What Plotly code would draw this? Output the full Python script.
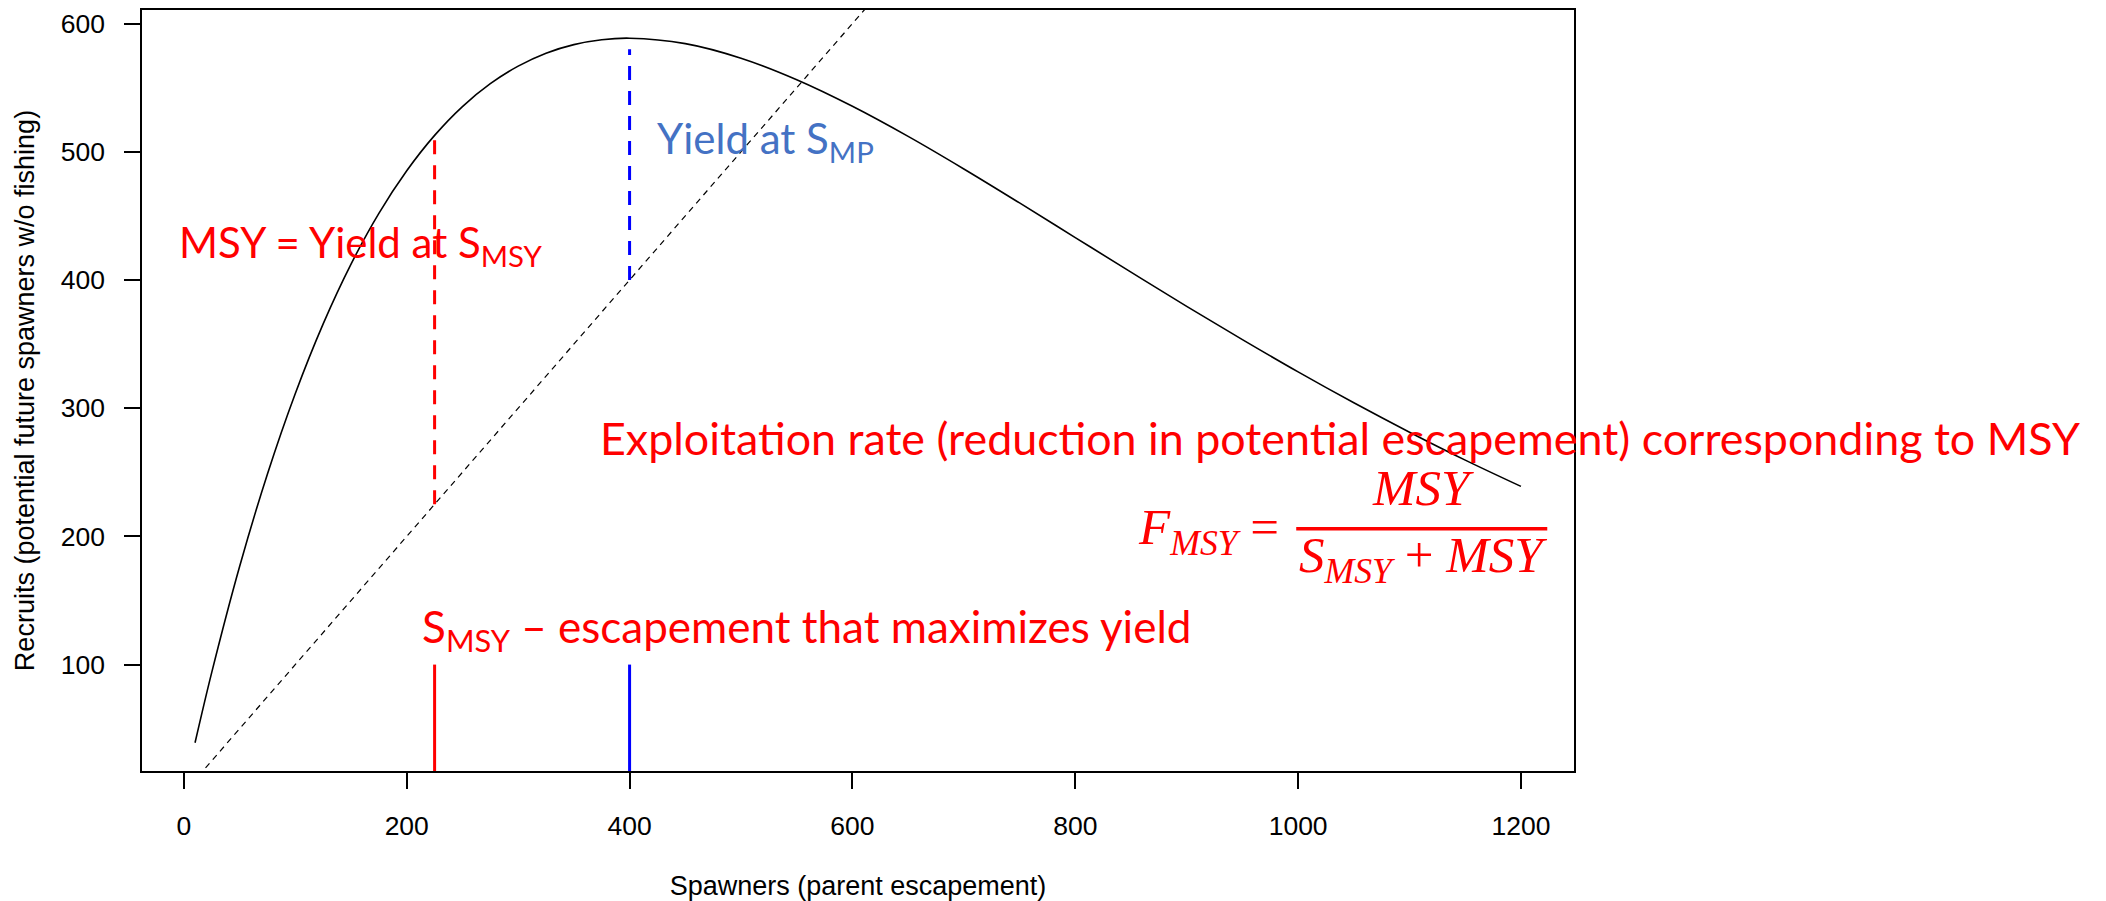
import plotly.graph_objects as go

# Ricker stock-recruitment curve, read at regular spawner levels
spawners = [10, 25, 50, 75, 100, 125, 150, 175, 200, 225, 250, 275, 300, 325,
            350, 375, 400, 450, 500, 550, 600, 650, 700, 750, 800, 850, 900,
            950, 1000, 1050, 1100, 1150, 1200]
recruits = [39.0, 93.9, 176.5, 248.7, 311.5, 365.8, 412.4, 452.0, 485.2, 512.8,
            535.3, 553.1, 566.8, 576.9, 583.6, 587.4, 588.6, 584.4, 573.0,
            556.2, 535.5, 512.0, 486.6, 460.1, 433.1, 406.1, 379.4, 353.5,
            328.3, 304.2, 281.3, 259.5, 239.0]

# 1:1 replacement line (recruits = spawners)
replacement = [0, 1300]

# reference points
s_msy = 225          # escapement giving maximum sustainable yield
r_at_s_msy = 512     # recruits produced at S_MSY
s_mp = 400           # escapement giving maximum production
r_at_s_mp = 580      # top of the yield segment at S_MP
marker_top = 100     # height of the escapement markers on the x axis

x_ticks = [0, 200, 400, 600, 800, 1000, 1200]
y_ticks = [100, 200, 300, 400, 500, 600]

RED = "#FF0000"
BLUE = "#0000FF"
TEXT_BLUE = "#4472C4"
LABEL_FONT = "Lato, 'Open Sans', sans-serif"
MATH_FONT = "'Liberation Serif', 'DejaVu Serif', serif"
AXIS_FONT = "'Liberation Sans', Arial, sans-serif"

fig = go.Figure()

fig.add_trace(go.Scatter(x=spawners, y=recruits, mode="lines",
                         line=dict(color="black", width=1.6, shape="spline"),
                         hoverinfo="skip"))
fig.add_trace(go.Scatter(x=replacement, y=replacement, mode="lines",
                         line=dict(color="black", width=1.2, dash="6px,5px"),
                         hoverinfo="skip"))

# yield segments between the replacement line and the curve
fig.add_trace(go.Scatter(x=[s_msy, s_msy], y=[s_msy, r_at_s_msy], mode="lines",
                         line=dict(color=RED, width=3, dash="14px,11px"),
                         hoverinfo="skip"))
fig.add_trace(go.Scatter(x=[s_mp, s_mp], y=[s_mp, r_at_s_mp], mode="lines",
                         line=dict(color=BLUE, width=3, dash="14px,11px"),
                         hoverinfo="skip"))

# escapement markers rising from the x axis
fig.add_trace(go.Scatter(x=[s_msy, s_msy], y=[0, marker_top], mode="lines",
                         line=dict(color=RED, width=3), hoverinfo="skip"))
fig.add_trace(go.Scatter(x=[s_mp, s_mp], y=[0, marker_top], mode="lines",
                         line=dict(color=BLUE, width=3), hoverinfo="skip"))


def label(text, x, y, color, size, family=LABEL_FONT, xanchor="left"):
    fig.add_annotation(text=text, x=x, y=y, xref="x", yref="y",
                       xanchor=xanchor, yanchor="middle", showarrow=False,
                       font=dict(family=family, size=size, color=color))


label("MSY = Yield at S<sub>MSY</sub>", -6, 427.5, RED, 42)
label("Yield at S<sub>MP</sub>", 423, 508.6, TEXT_BLUE, 42)
label("Exploitation rate (reduction in potential escapement) corresponding to MSY",
      371.7, 277, RED, 44.8)
label("S<sub>MSY</sub> \u2013 escapement that maximizes yield", 211.7, 127.7, RED, 44)

# F_MSY = MSY / (S_MSY + MSY)
label("<i>F</i><sub><i>MSY</i></sub> =", 854.9, 203.9, RED, 51, family=MATH_FONT)
label("<i>MSY</i>", 1111.9, 237.7, RED, 51, family=MATH_FONT, xanchor="center")
label("<i>S</i><sub><i>MSY</i></sub> + <i>MSY</i>", 1111.9, 182.5, RED, 51,
      family=MATH_FONT, xanchor="center")
fig.add_shape(type="line", xref="x", yref="y", x0=998.3, x1=1223.6,
              y0=205.9, y1=205.9, line=dict(color=RED, width=3.5))

axis_common = dict(showgrid=False, zeroline=False, showline=True, mirror=True,
                   linecolor="black", linewidth=1.5, ticks="outside",
                   ticklen=16, tickwidth=1.5, tickcolor="black",
                   automargin=False,
                   tickfont=dict(family=AXIS_FONT, size=26.5, color="black"))

fig.update_xaxes(range=[-37.6, 1247.6], tickvals=x_ticks,
                 ticktext=[str(v) for v in x_ticks], ticklabelstandoff=14,
                 title=dict(text="Spawners (parent escapement)", standoff=40,
                            font=dict(family=AXIS_FONT, size=27, color="black")),
                 **axis_common)
fig.update_yaxes(range=[17.0, 610.6], tickvals=y_ticks,
                 ticktext=[str(v) for v in y_ticks], ticklabelstandoff=14,
                 title=dict(text="Recruits (potential future spawners w/o fishing)",
                            standoff=18,
                            font=dict(family=AXIS_FONT, size=27, color="black")),
                 **axis_common)

fig.update_layout(width=2106, height=901, showlegend=False,
                  paper_bgcolor="white", plot_bgcolor="white",
                  margin=dict(l=142, r=532, t=10, b=130, autoexpand=False))

fig.write_html("out.html")
